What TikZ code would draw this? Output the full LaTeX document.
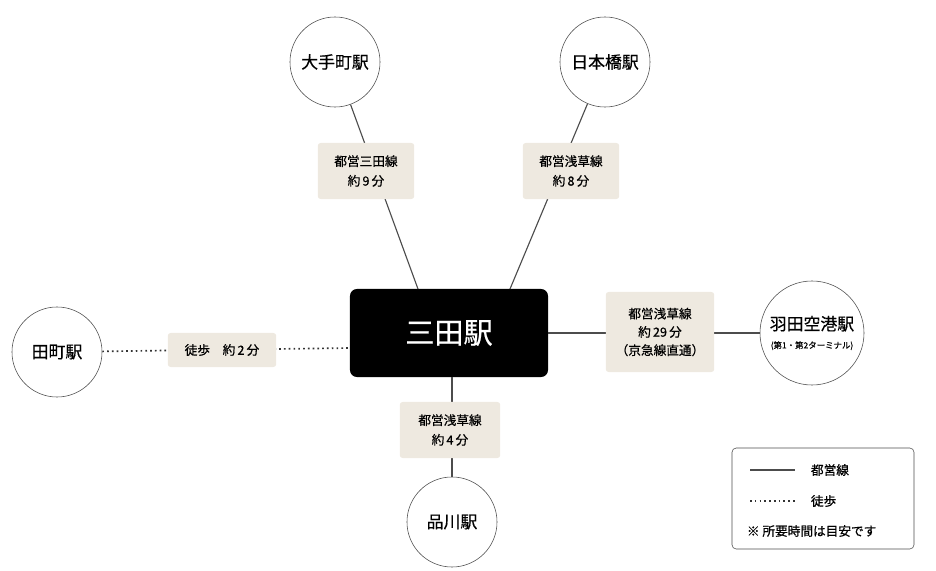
\documentclass[tikz,border=0pt]{standalone}
\usepackage{fontspec}
\setmainfont{Noto Sans CJK JP}[FakeBold=0.6,AutoFakeBold=0.6]
\definecolor{beige}{HTML}{EEE9E0}
\tikzset{
  stn/.style={circle,draw=black!70,fill=white,minimum size=2.25cm,inner sep=0pt,font=\large\bfseries},
  lbl/.style={fill=beige,rounded corners=2pt,align=center,font=\small\bfseries,inner sep=3pt,text width=2.2cm,minimum height=1.4cm},
  line/.style={draw=black!70,thick},
  walk/.style={draw=black!80,line width=1.2pt,dash pattern=on 1.2pt off 2.2pt}
}
\begin{document}
\begin{tikzpicture}[x=0.025cm,y=-0.025cm]
	\useasboundingbox (0,0) rectangle (936,571);
	
	% Draw the hub and stations
	\node[fill=black,rounded corners=5pt,minimum width=4.95cm,minimum height=2.2cm,text=white,font=\huge] (Mita) at (449,333) {三田駅};
	\node[stn] (Otemachi) at (335,62) {大手町駅};
	\node[stn] (Nihombashi) at (605,62) {日本橋駅};
	\node[stn] (Tamachi) at (57,352) {田町駅};
	\node[stn,minimum size=2.6cm,align=center] (Haneda) at (812,333) {羽田空港駅\\[-1pt]{\fontsize{6}{7}\selectfont (第1・第2ターミナル)}};
	\node[stn] (Shinagawa) at (452,522) {品川駅};
	
	% Where the lines meet the hub
	\coordinate (mO) at (418,289);
	\coordinate (mN) at (510,289);
	\coordinate (mT) at (350,348);
	\coordinate (mS) at (452,377);
	
	% Draw the lines, then the labels on top
	\draw[line] (Otemachi) -- (mO);
	\draw[line] (Nihombashi) -- (mN);
	\draw[line] (Mita) -- (Haneda);
	\draw[line] (mS) -- (Shinagawa);
	\draw[walk] (Tamachi) -- (mT);
	
	\node[lbl] (L1) at (366,171) {都営三田線\\[3pt]約\,9\,分};
	\node[lbl] (L2) at (571,171) {都営浅草線\\[3pt]約\,8\,分};
	\node[lbl,text width=2.5cm,minimum height=2cm] (L3) at (660,332) {都営浅草線\\[2pt]約\,29\,分\\[2pt]（京急線直通）};
	\node[lbl,text width=2.3cm] (L4) at (450,430) {都営浅草線\\[3pt]約\,4\,分};
	\node[lbl,text width=2.5cm,minimum height=0.85cm] (L5) at (222,350) {徒歩\quad 約\,2\,分};
	
	% Legend
	\draw[black!70,rounded corners=3pt] (732,448) rectangle (914,549);
	\coordinate (a1) at (750,470);
	\coordinate (b1) at (795,470);
	\coordinate (a2) at (750,501);
	\coordinate (b2) at (795,501);
	\draw[line] (a1) -- (b1);
	\draw[walk] (a2) -- (b2);
	\node[anchor=west,font=\small\bfseries] (k1) at (806,470) {都営線};
	\node[anchor=west,font=\small\bfseries] (k2) at (806,501) {徒歩};
	\node[anchor=west,font=\small\bfseries] (k3) at (742,531) {※\ 所要時間は目安です};
	
\end{tikzpicture}
\end{document}
